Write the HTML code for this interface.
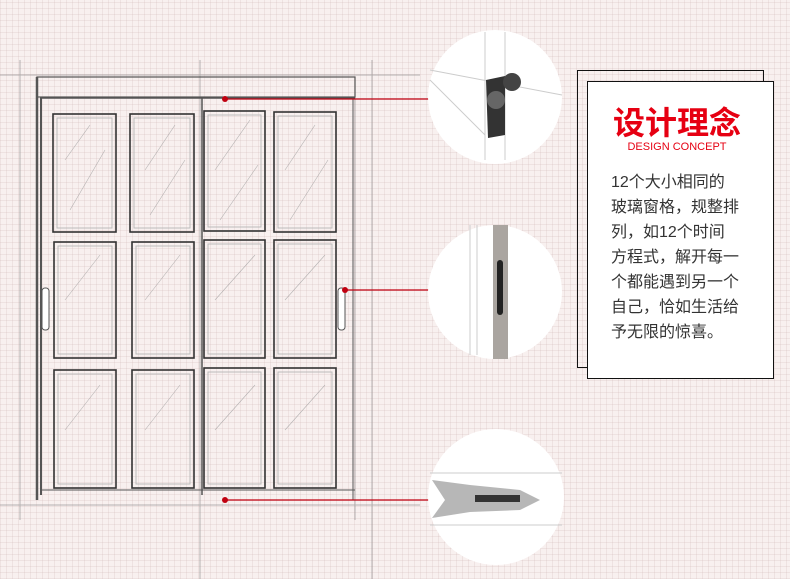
<!DOCTYPE html>
<html><head><meta charset="utf-8"><style>
html,body{margin:0;padding:0}
body{width:790px;height:579px;overflow:hidden;position:relative;
background-color:#f8f0ef;
background-image:repeating-linear-gradient(0deg,rgba(200,170,170,.2) 0 1px,transparent 1px 6px),repeating-linear-gradient(90deg,rgba(200,170,170,.2) 0 1px,transparent 1px 6px);
font-family:"Liberation Sans","Noto Sans CJK SC",sans-serif}
svg{position:absolute;left:0;top:0}
.box1{position:absolute;left:577px;top:70px;width:185px;height:296px;border:1px solid #111}
.box2{position:absolute;left:587px;top:81px;width:185px;height:296px;border:1px solid #111;background:#fff}
.t{position:absolute;text-align:center}
</style></head><body>
<svg width="790" height="579">
<g stroke="#888" stroke-width="1" fill="none" opacity=".6">
<line x1="0" y1="75" x2="420" y2="75"/><line x1="20" y1="60" x2="20" y2="520"/>
<line x1="372" y1="60" x2="372" y2="579"/><line x1="0" y1="505" x2="420" y2="505"/>
<line x1="200" y1="60" x2="200" y2="579"/><line x1="355" y1="80" x2="355" y2="520"/>
</g>
<g stroke="#555" fill="none">
<rect x="37" y="77" width="318" height="20" stroke-width="1.2"/>
<line x1="37" y1="77" x2="37" y2="500" stroke-width="2.5"/>
<line x1="41" y1="98" x2="41" y2="495" stroke-width="2"/>
<line x1="40" y1="98" x2="355" y2="98" stroke-width="1.5"/>
<line x1="202" y1="98" x2="202" y2="495" stroke-width="1.5"/>
<line x1="353" y1="98" x2="353" y2="500"/>
<line x1="40" y1="490" x2="355" y2="490"/>
</g>
<g stroke="#333" stroke-width="1.6" fill="none">
<rect x="53" y="114" width="63" height="118"/><rect x="130" y="114" width="64" height="118"/>
<rect x="204" y="111" width="61" height="120"/><rect x="274" y="112" width="62" height="120"/>
<rect x="54" y="242" width="62" height="116"/><rect x="132" y="242" width="62" height="116"/>
<rect x="204" y="240" width="61" height="118"/><rect x="274" y="240" width="62" height="118"/>
<rect x="54" y="370" width="62" height="118"/><rect x="132" y="370" width="62" height="118"/>
<rect x="204" y="368" width="61" height="120"/><rect x="274" y="368" width="62" height="120"/>
</g>
<g stroke="#bbb" stroke-width="1" fill="none">
<rect x="57" y="118" width="55" height="110"/><rect x="134" y="118" width="56" height="110"/>
<rect x="208" y="115" width="53" height="112"/><rect x="278" y="116" width="54" height="112"/>
<rect x="58" y="246" width="54" height="108"/><rect x="136" y="246" width="54" height="108"/>
<rect x="208" y="244" width="53" height="110"/><rect x="278" y="244" width="54" height="110"/>
<rect x="58" y="374" width="54" height="110"/><rect x="136" y="374" width="54" height="110"/>
<rect x="208" y="372" width="53" height="112"/><rect x="278" y="372" width="54" height="112"/>
</g>
<g stroke="#999" stroke-width=".6" opacity=".7">
<line x1="65" y1="160" x2="90" y2="125"/><line x1="70" y1="210" x2="105" y2="150"/>
<line x1="145" y1="170" x2="175" y2="125"/><line x1="150" y1="215" x2="185" y2="160"/>
<line x1="215" y1="170" x2="250" y2="120"/><line x1="220" y1="220" x2="258" y2="165"/>
<line x1="285" y1="170" x2="315" y2="125"/><line x1="290" y1="220" x2="328" y2="160"/>
<line x1="65" y1="300" x2="100" y2="255"/><line x1="145" y1="300" x2="180" y2="255"/>
<line x1="215" y1="300" x2="255" y2="255"/><line x1="285" y1="300" x2="325" y2="255"/>
<line x1="65" y1="430" x2="100" y2="385"/><line x1="145" y1="430" x2="180" y2="385"/>
<line x1="215" y1="430" x2="255" y2="385"/><line x1="285" y1="430" x2="325" y2="385"/>
</g>
<rect x="42" y="288" width="7" height="42" rx="3" fill="#fff" stroke="#555"/>
<rect x="338" y="288" width="7" height="42" rx="3" fill="#fff" stroke="#555"/>
<g stroke="#c00010" stroke-width="1.2">
<line x1="225" y1="99" x2="430" y2="99"/><line x1="345" y1="290" x2="430" y2="290"/><line x1="225" y1="500" x2="430" y2="500"/>
</g>
<g fill="#c00010"><circle cx="225" cy="99" r="3"/><circle cx="345" cy="290" r="3"/><circle cx="225" cy="500" r="3"/></g>
<circle cx="495" cy="97" r="67" fill="#fff"/>
<circle cx="495" cy="292" r="67" fill="#fff"/>
<circle cx="496" cy="497" r="68" fill="#fff"/>
<g stroke="#ccc" fill="none">
<line x1="485" y1="32" x2="485" y2="160"/><line x1="505" y1="32" x2="505" y2="160"/>
<line x1="430" y1="70" x2="562" y2="95"/><line x1="430" y1="80" x2="485" y2="135"/>
<line x1="470" y1="225" x2="470" y2="355"/><line x1="477" y1="225" x2="477" y2="355"/>
<line x1="430" y1="473" x2="562" y2="473"/><line x1="430" y1="525" x2="562" y2="525"/>
</g>
<polygon points="486,80 505,76 505,135 488,138" fill="#333"/>
<circle cx="496" cy="100" r="9" fill="#666"/><circle cx="512" cy="82" r="9" fill="#444"/>
<rect x="493" y="225" width="15" height="134" fill="#aaa5a0"/>
<rect x="497" y="260" width="6" height="55" rx="3" fill="#222"/>
<polygon points="432,480 470,485 520,490 540,500 520,510 470,512 432,518 445,500" fill="#999" opacity=".7"/>
<rect x="475" y="495" width="45" height="7" fill="#333"/>
</svg>
<div class="box1"></div>
<div class="box2"></div>
<div class="t" style="left:582px;top:104px;color:#e60012;font-size:32px;font-weight:bold;line-height:38px;width:190px">设计理念</div>
<div class="t" style="left:582px;top:140px;color:#e60012;font-size:11px;line-height:14px;width:190px">DESIGN CONCEPT</div>
<div style="position:absolute;left:611px;top:170px;width:140px;font-size:16px;line-height:25px;color:#333">12个大小相同的<br>玻璃窗格，规整排<br>列，如12个时间<br>方程式，解开每一<br>个都能遇到另一个<br>自己，恰如生活给<br>予无限的惊喜。</div>
</body></html>
